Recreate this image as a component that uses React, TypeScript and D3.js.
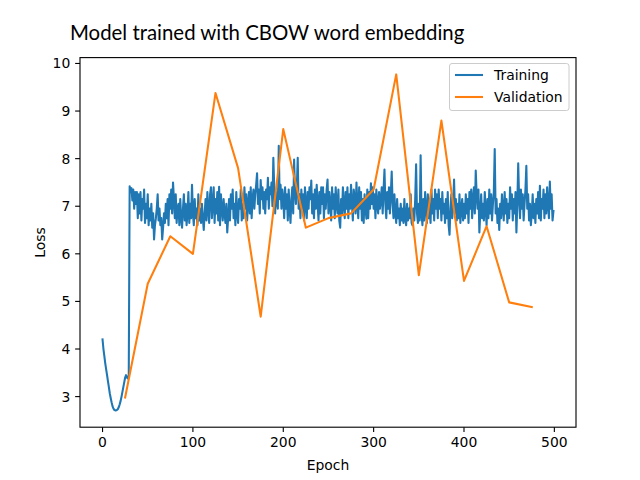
import React from "react";
import * as d3 from "d3";

const TITLE = "Model trained with CBOW word embedding";
const X_LABEL = "Epoch";
const Y_LABEL = "Loss";
const X_TICKS = [0, 100, 200, 300, 400, 500];
const Y_TICKS = [3, 4, 5, 6, 7, 8, 9, 10];

const trainingLoss: number[] = [
  4.20, 4.00, 3.85, 3.70, 3.57, 3.45, 3.32, 3.20, 3.07, 2.97, 2.88, 2.80, 2.75, 2.72, 2.71, 2.71, 2.72, 2.74, 2.78, 2.84,
  2.91, 3.00, 3.10, 3.20, 3.30, 3.40, 3.45, 3.40, 3.38, 3.45,
  7.42, 7.30, 7.38, 7.12, 7.35, 6.95, 7.30, 7.05, 7.30, 6.75,
  7.25, 6.85, 7.30, 6.70, 7.15, 6.95, 7.35, 6.65, 7.05, 6.75,
  7.25, 6.60, 6.95, 6.70, 7.05, 6.55, 6.85, 6.30, 6.60, 6.75,
  6.95, 7.25, 6.70, 6.95, 6.60, 6.75, 6.30, 6.55, 6.85, 6.65,
  7.05, 6.75, 7.15, 6.60, 7.25, 6.95, 7.35, 6.85, 7.50, 7.15,
  6.75, 7.25, 6.65, 6.95, 7.05, 6.60, 7.15, 6.75, 6.55, 6.95,
  7.25, 6.70, 7.05, 6.60, 6.85, 7.30, 6.65, 7.05, 6.75, 7.45,
  6.85, 6.60, 7.15, 6.75, 6.95, 6.60, 7.25, 6.70, 6.95, 6.65,
  7.05, 6.75, 6.50, 6.85, 7.15, 6.70, 7.30, 6.95, 6.65, 7.25,
  7.40, 6.75, 7.05, 7.40, 6.65, 7.15, 6.85, 7.30, 6.70, 7.41,
  6.60, 7.25, 6.95, 6.70, 7.15, 6.85, 6.65, 7.05, 6.45, 6.75,
  7.15, 6.70, 7.25, 6.95, 7.35, 6.75, 7.05, 6.60, 7.30, 6.85,
  6.65, 7.15, 6.95, 7.35, 6.70, 7.05, 6.75, 7.40, 6.95, 7.25,
  6.70, 7.05, 7.30, 6.85, 7.40, 6.75, 7.15, 7.35, 6.95, 7.25,
  7.45, 7.69, 7.05, 7.35, 6.85, 7.55, 7.15, 7.40, 6.95, 7.30,
  6.85, 7.35, 7.15, 7.60, 6.95, 7.40, 7.25, 7.50, 7.00, 8.02,
  7.40, 6.85, 7.30, 7.10, 6.95, 8.27, 7.15, 7.45, 6.95, 7.35,
  7.15, 6.75, 7.40, 6.95, 7.25, 6.70, 7.35, 6.95, 6.65, 7.15,
  7.40, 6.85, 7.98, 7.30, 7.05, 7.40, 8.02, 6.95, 7.25, 6.75,
  7.35, 6.95, 7.25, 6.70, 7.40, 7.05, 6.75, 7.30, 6.95, 7.40,
  7.15, 7.54, 6.85, 7.25, 6.75, 7.35, 6.95, 7.45, 7.05, 6.70,
  7.30, 6.85, 7.40, 7.05, 7.40, 6.75, 7.25, 6.95, 7.35, 7.56,
  6.85, 7.30, 7.05, 6.70, 7.40, 6.95, 7.25, 6.75, 7.40, 7.05,
  6.85, 7.35, 6.70, 6.55, 7.15, 6.85, 7.40, 7.05, 6.75, 7.30,
  6.95, 7.40, 6.75, 7.25, 6.95, 7.45, 7.05, 6.70, 7.35, 7.15,
  6.85, 7.50, 7.05, 6.75, 7.40, 6.95, 7.30, 6.70, 7.15, 6.65,
  7.25, 6.95, 6.74, 7.35, 6.75, 7.30, 6.95, 7.48, 7.05, 7.40,
  6.95, 7.25, 6.75, 7.35, 7.05, 6.85, 7.30, 6.95, 7.15, 7.40,
  6.85, 7.35, 7.77, 7.05, 6.75, 7.30, 6.95, 7.40, 6.85, 7.25,
  7.73, 7.05, 6.75, 7.25, 6.85, 6.65, 7.15, 6.75, 6.95, 6.60,
  7.05, 6.70, 6.95, 6.65, 7.15, 6.75, 6.60, 7.05, 6.70, 6.95,
  6.75, 7.25, 6.65, 6.60, 6.95, 6.70, 7.15, 7.88, 6.85, 6.65,
  7.05, 6.70, 8.07, 6.85, 6.60, 7.15, 6.70, 7.30, 6.95, 6.65,
  7.25, 6.75, 7.05, 6.65, 7.35, 6.85, 7.15, 6.70, 7.35, 6.95,
  7.25, 6.75, 7.35, 6.95, 7.15, 6.70, 7.30, 6.85, 7.05, 6.65,
  7.15, 6.75, 7.30, 6.60, 6.40, 6.95, 7.25, 6.75, 7.05, 7.56,
  6.85, 7.15, 6.70, 7.05, 6.75, 7.25, 6.65, 6.95, 7.15, 6.70,
  7.05, 6.75, 7.25, 6.85, 7.15, 6.65, 7.30, 6.95, 7.35, 6.75,
  7.15, 7.40, 6.85, 7.75, 7.25, 6.95, 7.35, 6.45, 6.85, 7.25,
  6.75, 7.05, 6.70, 7.30, 6.95, 6.60, 7.15, 6.75, 7.35, 6.85,
  7.25, 6.70, 7.05, 7.30, 8.20, 6.85, 7.15, 6.65, 6.95, 6.50,
  7.05, 6.75, 7.25, 6.95, 6.70, 7.30, 6.85, 7.15, 6.65, 7.05,
  6.75, 7.40, 6.95, 7.25, 6.70, 7.15, 6.85, 7.30, 6.45, 7.05,
  7.90, 7.15, 6.75, 7.35, 6.95, 7.25, 6.70, 7.05, 7.35, 7.85,
  6.95, 7.25, 6.70, 7.05, 6.60, 6.85, 7.25, 6.75, 7.05, 6.65,
  7.15, 6.85, 7.30, 6.75, 7.43, 6.70, 7.15, 6.95, 7.35, 6.75,
  7.25, 6.85, 7.40, 7.05, 6.75, 7.52, 6.95, 7.25, 6.70, 6.90,
];

const validationEpochs: number[] = [25, 50, 75, 100, 125, 150, 175, 200, 225, 250, 275, 300, 325, 350, 375, 400, 425, 450, 475];
const validationLoss: number[] = [2.98, 5.37, 6.37, 6.0, 9.38, 7.8, 4.68, 8.62, 6.55, 6.75, 6.85, 7.35, 9.77, 5.55, 8.8, 5.43, 6.58, 4.98, 4.88];

const BLUE = "#1f77b4";
const ORANGE = "#ff7f0e";
const TICK_FONT = "'DejaVu Sans', sans-serif";

export default function App() {
  const W = 640, H = 480;
  const L = 80, R = 576, T = 57.6, B = 427.2;

  const trainPts = trainingLoss.map((v, i) => [i, v] as [number, number]);
  const valPts = validationEpochs.map((e, i) => [e, validationLoss[i]] as [number, number]);

  const allY = [...trainingLoss, ...validationLoss];
  const yMin = d3.min(allY)!;
  const yMax = d3.max(allY)!;
  const yPad = (yMax - yMin) * 0.05;
  const xMin = 0, xMax = 499;
  const xPad = (xMax - xMin) * 0.05;

  const x = d3.scaleLinear().domain([xMin - xPad, xMax + xPad]).range([L, R]);
  const y = d3.scaleLinear().domain([yMin - yPad, yMax + yPad]).range([B, T]);

  const line = d3.line<[number, number]>().x((d) => x(d[0])).y((d) => y(d[1]));

  const tickLen = 4.86;
  const fs = 13.9;

  return (
    <svg width={W} height={H} style={{ position: "absolute", left: 0, top: 0, background: "#fff" }} xmlns="http://www.w3.org/2000/svg">
      <rect x={0} y={0} width={W} height={H} fill="#fff" />
      <text x={70} y={40} fontFamily="Lato, 'Open Sans', sans-serif" fontSize={20.4} fill="#000">{TITLE}</text>

      <defs>
        <clipPath id="plotclip">
          <rect x={L} y={T} width={R - L} height={B - T} />
        </clipPath>
      </defs>

      <g clipPath="url(#plotclip)">
        <path d={line(trainPts)!} fill="none" stroke={BLUE} strokeWidth={2.08} strokeLinejoin="round" strokeLinecap="square" />
        <path d={line(valPts)!} fill="none" stroke={ORANGE} strokeWidth={2.08} strokeLinejoin="round" strokeLinecap="square" />
      </g>

      <rect x={L} y={T} width={R - L} height={B - T} fill="none" stroke="#000" strokeWidth={1.11} />

      {X_TICKS.map((t) => (
        <g key={"x" + t}>
          <line x1={x(t)} x2={x(t)} y1={B} y2={B + tickLen} stroke="#000" strokeWidth={1.11} />
          <text x={x(t)} y={B + tickLen + 4.86 + fs * 0.76} textAnchor="middle" fontFamily={TICK_FONT} fontSize={fs} fill="#000">{t}</text>
        </g>
      ))}
      {Y_TICKS.map((t) => (
        <g key={"y" + t}>
          <line x1={L - tickLen} x2={L} y1={y(t)} y2={y(t)} stroke="#000" strokeWidth={1.11} />
          <text x={L - tickLen - 4.86} y={y(t)} dy="0.36em" textAnchor="end" fontFamily={TICK_FONT} fontSize={fs} fill="#000">{t}</text>
        </g>
      ))}

      <text x={(L + R) / 2} y={470} textAnchor="middle" fontFamily={TICK_FONT} fontSize={fs} fill="#000">{X_LABEL}</text>
      <text transform={`translate(45,${(T + B) / 2}) rotate(-90)`} textAnchor="middle" fontFamily={TICK_FONT} fontSize={fs} fill="#000">{Y_LABEL}</text>

      <g>
        <rect x={449.5} y={63.5} width={119.5} height={47} rx={2.5} fill="#fff" fillOpacity={0.8} stroke="#ccc" strokeWidth={1} />
        <line x1={455} x2={483} y1={75} y2={75} stroke={BLUE} strokeWidth={2.08} />
        <text x={494} y={75} dy="0.36em" fontFamily={TICK_FONT} fontSize={fs} fill="#000">Training</text>
        <line x1={455} x2={483} y1={97} y2={97} stroke={ORANGE} strokeWidth={2.08} />
        <text x={494} y={97} dy="0.36em" fontFamily={TICK_FONT} fontSize={fs} fill="#000">Validation</text>
      </g>
    </svg>
  );
}
